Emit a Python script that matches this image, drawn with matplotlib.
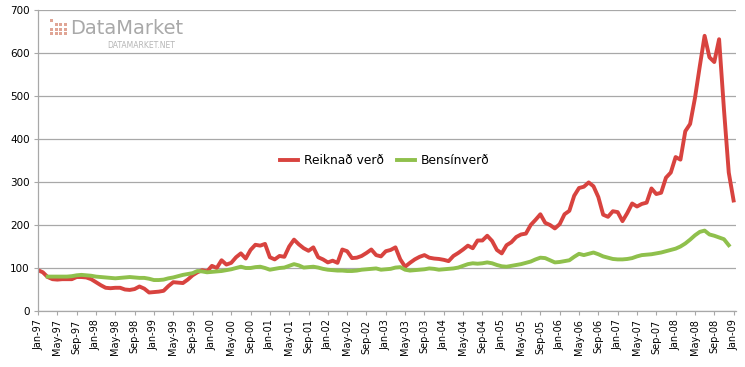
import numpy as np
import matplotlib
matplotlib.use("Agg")
import matplotlib.pyplot as plt
from matplotlib.patches import Rectangle

# monthly values, Jan-97 .. Jan-09
reiknad = [95, 90, 79, 74, 73, 74, 74, 74, 79, 79, 78, 74,
           67, 60, 54, 53, 54, 54, 50, 49, 51, 57, 52, 43,
           44, 45, 47, 58, 67, 66, 65, 73, 83, 90, 95, 92,
           105, 100, 118, 108, 112, 125, 134, 122, 142, 154, 152, 156,
           125, 120, 128, 126, 150, 166, 155, 146, 140, 148, 125, 120,
           113, 117, 112, 143, 139, 123, 124, 128, 135, 143, 130, 127,
           139, 142, 148, 120, 103, 112, 120, 126, 130, 124, 122, 121,
           119, 116, 128, 135, 143, 152, 146, 164, 164, 175, 163, 142,
           134, 153, 160, 172, 178, 180, 200, 212, 225, 205, 200, 192,
           202, 225, 233, 268, 286, 289, 299, 290, 265, 224, 219, 232,
           230, 209, 228, 250, 243, 249, 252, 285, 272, 275, 310, 322,
           358, 352, 418, 435, 495, 569, 640, 590, 579, 632, 470, 322,
           257]

bensin = [np.nan, np.nan, 80, 80, 80, 80, 80, 81, 83, 84, 83, 82,
          80, 79, 78, 77, 76, 77, 78, 79, 78, 77, 77, 75,
          72, 72, 73, 76, 78, 81, 84, 86, 88, 93, 92, 90,
          91, 92, 93, 95, 97, 100, 103, 100, 100, 102, 103, 100,
          96, 98, 100, 101, 105, 109, 106, 101, 102, 103, 101, 98,
          96, 95, 94, 94, 93, 93, 94, 96, 97, 98, 99, 96,
          97, 98, 101, 102, 96, 94, 95, 96, 97, 99, 98, 96,
          97, 98, 99, 101, 105, 109, 111, 110, 111, 113, 111, 107,
          104, 103, 105, 107, 109, 112, 115, 120, 124, 123, 118, 113,
          114, 116, 118, 126, 133, 130, 133, 136, 132, 127, 124, 121,
          120, 120, 121, 123, 127, 130, 131, 132, 134, 136, 139, 142,
          145, 150, 157, 166, 176, 184, 187, 178, 175, 171, 167, 153,
          np.nan]

tick_labels = ["Jan-97", "May-97", "Sep-97", "Jan-98", "May-98", "Sep-98",
               "Jan-99", "May-99", "Sep-99", "Jan-00", "May-00", "Sep-00",
               "Jan-01", "May-01", "Sep-01", "Jan-02", "May-02", "Sep-02",
               "Jan-03", "May-03", "Sep-03", "Jan-04", "May-04", "Sep-04",
               "Jan-05", "May-05", "Sep-05", "Jan-06", "May-06", "Sep-06",
               "Jan-07", "May-07", "Sep-07", "Jan-08", "May-08", "Sep-08",
               "Jan-09"]

RED = "#d8433f"
GREEN = "#8fc04c"
GRID = "#a8a8a8"

fig = plt.figure(figsize=(7.45, 3.67), dpi=100)
ax = fig.add_axes([38 / 745, 1 - 311 / 367, 698 / 745, 301 / 367])

x = np.arange(len(reiknad))
ax.plot(x, reiknad, color=RED, lw=2.8, label="Reiknað verð", solid_joinstyle="round")
ax.plot(x, bensin, color=GREEN, lw=2.8, label="Bensínverð", solid_joinstyle="round")

ax.set_xlim(0, 144.5)
ax.set_ylim(0, 700)
ax.set_yticks(np.arange(0, 701, 100))
ax.set_xticks(np.arange(0, 145, 4))
ax.set_xticklabels(tick_labels, rotation=90, fontsize=7)
ax.tick_params(axis="y", labelsize=7.5, length=3, color=GRID, pad=3)
ax.tick_params(axis="x", length=3, color=GRID, pad=3)

ax.grid(axis="y", color=GRID, lw=0.9)
ax.set_axisbelow(True)
for s in ["top", "right"]:
    ax.spines[s].set_visible(False)
for s in ["left", "bottom"]:
    ax.spines[s].set_color(GRID)
    ax.spines[s].set_linewidth(0.9)

ax.legend(loc="center", bbox_to_anchor=(0.497, 0.5), ncol=2, frameon=False,
          fontsize=8.8, handlelength=1.5, columnspacing=1.0, handletextpad=0.5)

# DataMarket watermark
logo = [(0, 0), (1, 0), (2, 0), (3, 0), (0, 1), (1, 1), (2, 1), (3, 1),
        (1, 2), (2, 2), (3, 2), (0, 3)]
for cx, cy in logo:
    fig.patches.append(Rectangle((50 + cx * 4.5, 367 - 35 + cy * 4.5), 3, 3,
                                 transform=None, color="#e0a595", lw=0, zorder=5))
fig.text(70 / 745, 1 - 28 / 367, "DataMarket", fontsize=14, color="#a9a9a9",
         va="center", ha="left")
fig.text(175 / 745, 1 - 45 / 367, "DATAMARKET.NET", fontsize=5.5, color="#b5b5b5",
         va="center", ha="right")

fig.savefig("out.png", dpi=100)
